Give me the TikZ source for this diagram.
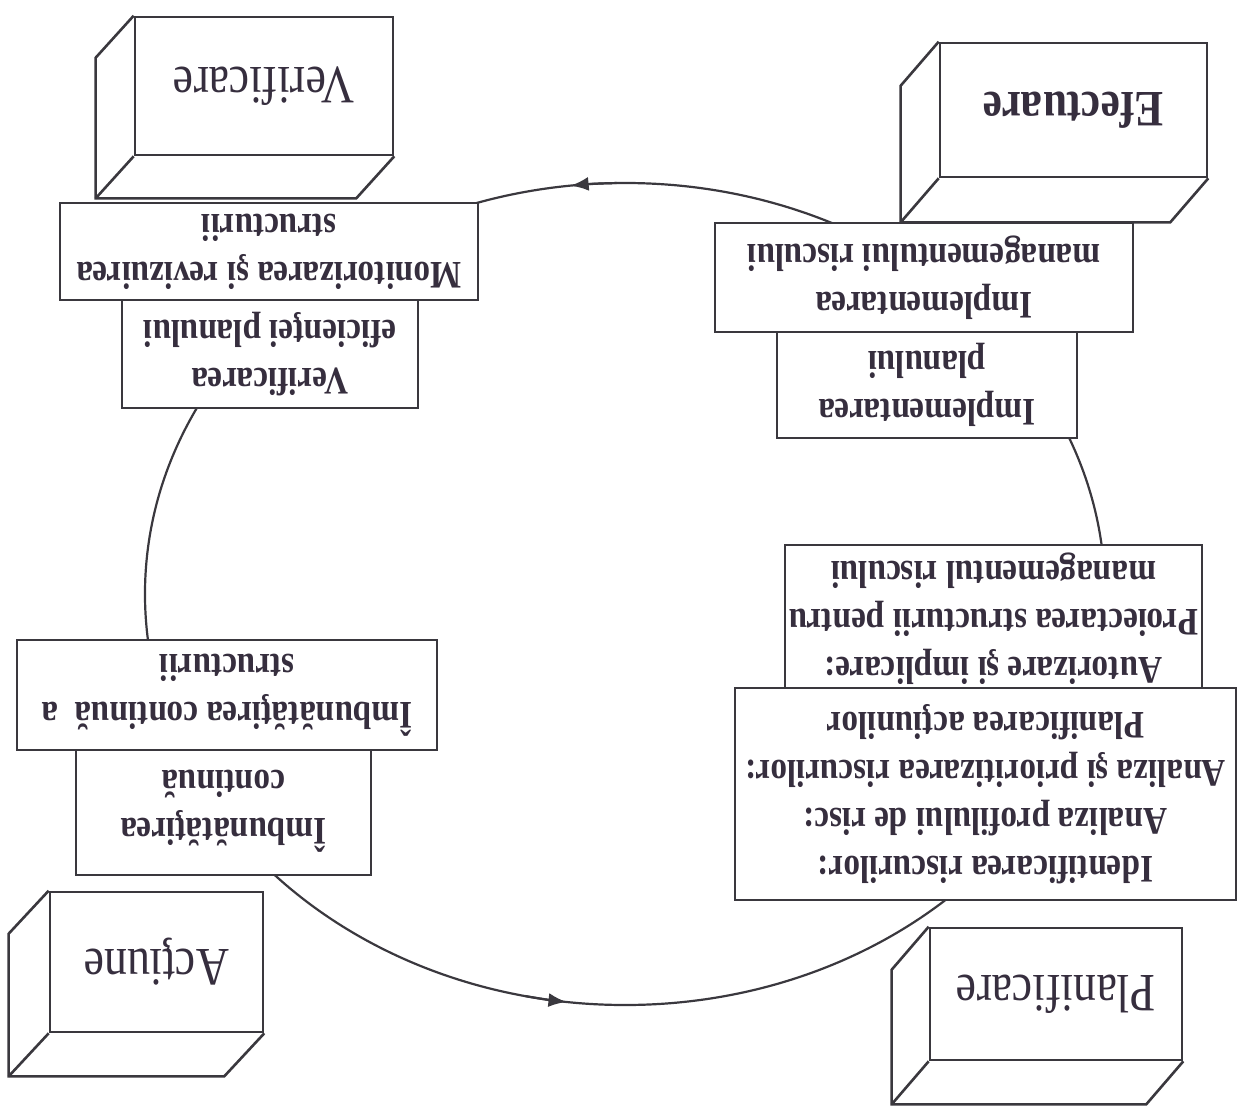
\documentclass[tikz,border=0pt]{standalone}
\usepackage{fontspec}
\setmainfont{Liberation Serif}[FakeStretch=0.85]
\usepackage{tikz}
\usetikzlibrary{arrows.meta, calc}
\definecolor{ink}{RGB}{58,56,62}
\definecolor{textink}{RGB}{54,46,62}
\tikzstyle{stage} = [rectangle, draw=ink, fill=white, line width=1.3pt, inner sep=0pt, text=textink, font=\fontsize{27pt}{30pt}\selectfont]
\tikzstyle{task} = [rectangle, draw=ink, fill=white, line width=1.4pt, inner sep=0pt, align=center, text=textink, font=\fontsize{19.5pt}{24pt}\selectfont\bfseries]
\tikzstyle{edge} = [draw=ink, line width=1.3pt]
\tikzstyle{loop} = [draw=ink, line width=1.1pt]
\tikzstyle{arrow} = [-{Latex[length=9pt, width=7pt]}, draw=ink, line width=1.1pt]

\begin{document}
\begin{tikzpicture}[x=0.5pt, y=0.5pt, rotate=180, transform shape]
        \useasboundingbox (0,0) rectangle (1242,1113);

        % Cycle
        \coordinate (pdca) at (617,594);
        \draw[loop] (pdca) ellipse [x radius=480, y radius=411];
        \draw[arrow] (pdca) ++(78:480 and 411) arc [start angle=78, end angle=83, x radius=480, y radius=411];
        \draw[arrow] (pdca) ++(271:480 and 411) arc [start angle=271, end angle=276.5, x radius=480, y radius=411];

        % Planificare
        \node[stage, font=\fontsize{27pt}{30pt}\selectfont, minimum width=126pt, minimum height=66pt] (plan) at (186,994) {Planificare};
        \draw[edge] (plan.north west) -- ++(37,43) -| ($(plan.south east)+(37,43)$) -- (plan.south east);
        \draw[edge] (plan.north east) -- ++(37,43);
        \node[task, minimum width=208.5pt, minimum height=73.5pt] (authorize) at (248.5,618.5) {Autorizare şi implicare:\\Proiectarea structurii pentru\\managementul riscului};
        \node[task, minimum width=250.5pt, minimum height=106pt] (identify) at (256.5,794) {Identificarea riscurilor:\\Analiza profilului de risc:\\Analiza şi prioritizarea riscurilor:\\Planificarea acţiunilor};

        % Efectuare
        \node[stage, font=\fontsize{25.5pt}{28pt}\selectfont\bfseries, minimum width=133.5pt, minimum height=67pt] (do) at (168.5,110) {Efectuare};
        \draw[edge] (do.north west) -- ++(38,44) -| ($(do.south east)+(38,44)$) -- (do.south east);
        \draw[edge] (do.north east) -- ++(38,44);
        \node[task, minimum width=150pt, minimum height=53pt] (implplan) at (315,385) {Implementarea\\planului};
        \node[task, minimum width=209pt, minimum height=54.5pt] (implrisk) at (318,277.5) {Implementarea\\managementului riscului};

        % Verificare
        \node[stage, minimum width=129pt, minimum height=69pt] (check) at (978,86) {Verificare};
        \draw[edge] (check.north west) -- ++(38,42) -| ($(check.south east)+(38,42)$) -- (check.south east);
        \draw[edge] (check.north east) -- ++(38,42);
        \node[task, minimum width=148pt, minimum height=54pt] (checkplan) at (972,354) {Verificarea\\eficienţei planului};
        \node[task, minimum width=209pt, minimum height=48.5pt] (monitor) at (973,251.5) {Monitorizarea şi revizuirea\\structurii};

        % Actiune
        \node[stage, minimum width=106.5pt, minimum height=70pt] (act) at (1085.5,962) {Acţiune};
        \draw[edge] (act.north west) -- ++(40,43) -| ($(act.south east)+(40,43)$) -- (act.south east);
        \draw[edge] (act.north east) -- ++(40,43);
        \node[task, minimum width=147.5pt, minimum height=63.5pt] (improve) at (1018.5,811.5) {Îmbunătăţirea\\continuă};
        \node[task, minimum width=210pt, minimum height=55pt] (improvestr) at (1015,695) {Îmbunătăţirea continuă~~a\\structurii};
\end{tikzpicture}
\end{document}
